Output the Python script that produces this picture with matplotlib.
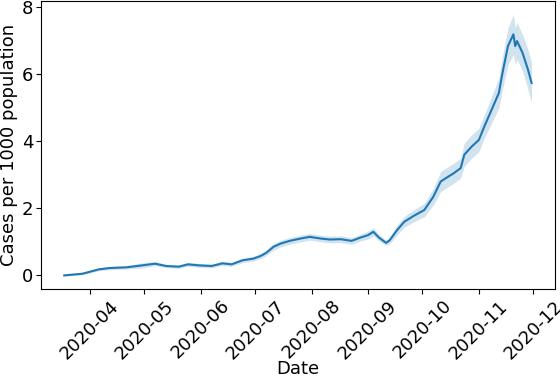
import matplotlib
matplotlib.use("Agg")
import matplotlib.pyplot as plt
import matplotlib.dates as mdates
import pandas as pd
import numpy as np

dates = ["2020-03-18", "2020-03-28", "2020-04-06", "2020-04-12", "2020-04-21",
         "2020-04-30", "2020-05-07", "2020-05-13", "2020-05-20", "2020-05-25",
         "2020-05-31", "2020-06-07", "2020-06-13", "2020-06-18", "2020-06-24",
         "2020-06-30", "2020-07-04", "2020-07-07", "2020-07-11", "2020-07-15",
         "2020-07-20", "2020-07-26", "2020-07-31", "2020-08-06", "2020-08-11",
         "2020-08-17", "2020-08-23", "2020-08-28", "2020-09-01", "2020-09-04",
         "2020-09-07", "2020-09-11", "2020-09-13", "2020-09-17", "2020-09-21",
         "2020-09-26", "2020-10-02", "2020-10-07", "2020-10-11", "2020-10-15",
         "2020-10-18", "2020-10-22", "2020-10-24", "2020-10-28", "2020-11-01",
         "2020-11-04", "2020-11-08", "2020-11-12", "2020-11-14", "2020-11-17",
         "2020-11-20", "2020-11-21", "2020-11-22", "2020-11-25", "2020-11-28",
         "2020-11-30"]
cases = [0.0, 0.05, 0.18, 0.22, 0.24, 0.3, 0.35, 0.28, 0.26, 0.33,
         0.3, 0.28, 0.36, 0.33, 0.45, 0.5, 0.58, 0.67, 0.85, 0.95,
         1.03, 1.1, 1.15, 1.1, 1.07, 1.08, 1.03, 1.13, 1.2, 1.3,
         1.13, 0.97, 1.05, 1.35, 1.6, 1.77, 1.95, 2.35, 2.8, 2.94,
         3.04, 3.2, 3.6, 3.84, 4.04, 4.44, 4.94, 5.44, 6.04, 6.84,
         7.19, 6.84, 6.99, 6.64, 6.14, 5.74]
ci = [0.02, 0.03, 0.04, 0.05, 0.05, 0.08, 0.06, 0.05, 0.05, 0.06,
      0.06, 0.06, 0.06, 0.06, 0.07, 0.07, 0.08, 0.08, 0.1, 0.1,
      0.1, 0.1, 0.1, 0.1, 0.1, 0.1, 0.1, 0.1, 0.12, 0.12,
      0.1, 0.08, 0.1, 0.15, 0.16, 0.18, 0.2, 0.25, 0.3, 0.3,
      0.3, 0.3, 0.35, 0.35, 0.35, 0.35, 0.4, 0.45, 0.5, 0.55,
      0.6, 0.55, 0.55, 0.55, 0.6, 0.6]

x = pd.to_datetime(dates)
y = np.array(cases)
err = np.array(ci)

fig, ax = plt.subplots(figsize=(5.6, 3.78), dpi=100)
fig.subplots_adjust(left=0.073, right=0.991, top=0.997, bottom=0.235)

ax.plot(x, y, color="C0", lw=1.5)
ax.fill_between(x, y - err, y + err, color="C0", alpha=0.2, lw=0)

ax.xaxis.set_major_locator(mdates.MonthLocator())
ax.xaxis.set_major_formatter(mdates.DateFormatter("%Y-%m"))
ax.set_yticks([0, 2, 4, 6, 8])
ax.tick_params(labelsize=13, pad=2)
plt.setp(ax.get_xticklabels(), rotation=45, ha="center")

ax.set_xlabel("Date", fontsize=13)
ax.set_ylabel("Cases per 1000 population", fontsize=13)
ax.yaxis.set_label_coords(-0.044, 0.5)
ax.xaxis.set_label_coords(0.5, -0.245)

fig.savefig("out.png", dpi=100)
